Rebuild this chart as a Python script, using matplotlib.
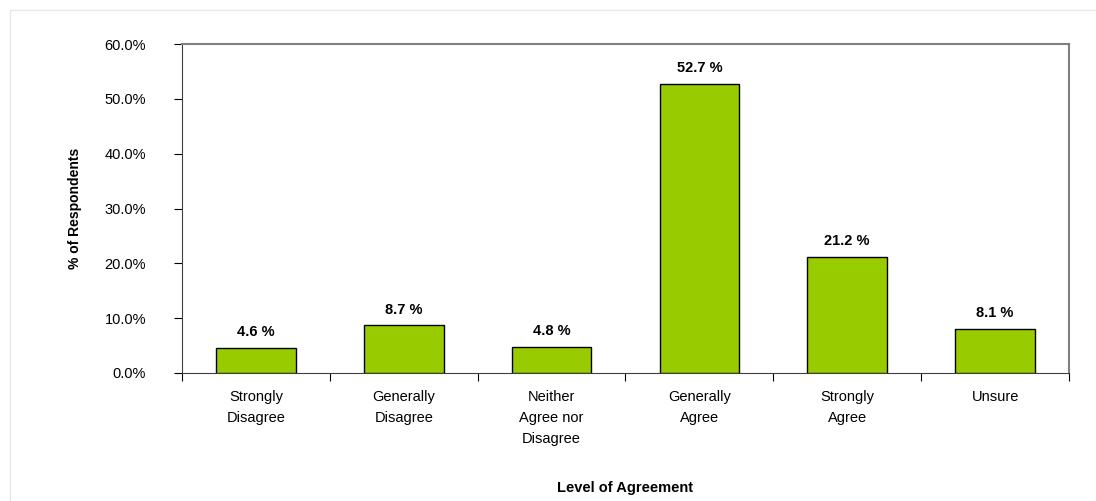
import numpy as np
import matplotlib
matplotlib.use("Agg")
import matplotlib.pyplot as plt
from matplotlib.ticker import FixedLocator, PercentFormatter
from matplotlib.patches import Rectangle

plt.rcParams['font.family'] = ['Liberation Sans', 'DejaVu Sans']

categories = ["Strongly\nDisagree", "Generally\nDisagree", "Neither\nAgree nor\nDisagree",
              "Generally\nAgree", "Strongly\nAgree", "Unsure"]
values = [4.6, 8.7, 4.8, 52.7, 21.2, 8.1]
y_ticks = [0, 10, 20, 30, 40, 50, 60]

fig = plt.figure(figsize=(10.96, 5.01), dpi=100)
# faint chart-area border
fig.patches.append(Rectangle((10 / 1096, -0.1), 1.2, (491 / 501) + 0.1, transform=fig.transFigure,
                             fill=False, edgecolor='#e8e8e8', linewidth=1))

ax = fig.add_axes([182 / 1096, 128 / 501, 887 / 1096, 329 / 501])

x = np.arange(len(categories))
bars = ax.bar(x, values, width=0.54, color='#99cc00', edgecolor='black', linewidth=1, zorder=3)

for xi, v in zip(x, values):
    ax.text(xi, v + 1.6, f"{v:.1f} %", ha='center', va='bottom', fontsize=10.5,
            fontweight='bold')

ax.set_xlim(-0.5, len(categories) - 0.5)
ax.set_ylim(0, 60)
ax.set_yticks(y_ticks)
ax.yaxis.set_major_formatter(PercentFormatter(decimals=1))
ax.tick_params(axis='y', direction='out', length=6, labelsize=10.5, pad=20, colors='black')

ax.xaxis.set_major_locator(FixedLocator(np.arange(-0.5, len(categories), 1.0)))
ax.xaxis.set_minor_locator(FixedLocator(x))
ax.set_xticklabels([], minor=False)
ax.set_xticklabels(categories, minor=True, fontsize=10.5, linespacing=1.65, va='top')
ax.tick_params(axis='x', which='major', direction='out', length=6)
ax.tick_params(axis='x', which='minor', length=0, pad=12)

for side in ['top', 'right']:
    ax.spines[side].set_color('#808080')
    ax.spines[side].set_linewidth(1.5)
ax.spines['left'].set_color('#404040')
ax.spines['bottom'].set_color('#404040')

fig.text(75 / 1096, 1 - 208 / 501, "% of Respondents", rotation=90, ha='center', va='center',
         fontsize=10, fontweight='bold')
fig.text(625 / 1096, 1 - 488 / 501, "Level of Agreement", ha='center', va='center',
         fontsize=10.5, fontweight='bold')

fig.savefig("out.png", dpi=100)
